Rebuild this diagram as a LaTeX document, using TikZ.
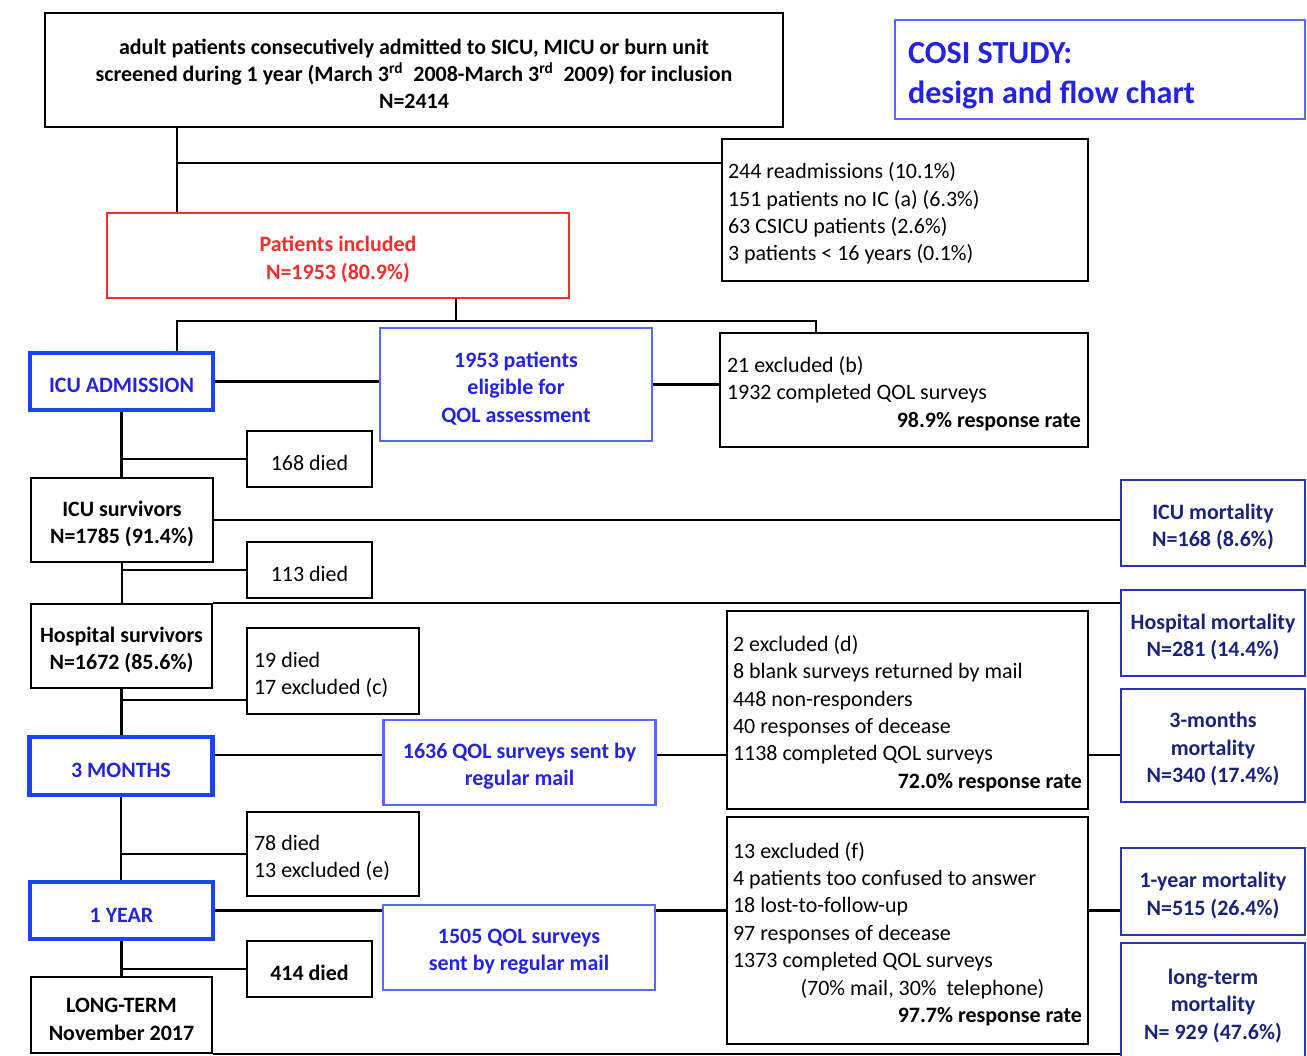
\documentclass[tikz,border=0pt]{standalone}
\usepackage{fontspec}
\setmainfont{Carlito}
\definecolor{stageblue}{RGB}{28,68,238}
\definecolor{textblue}{RGB}{35,35,225}
\definecolor{lineblue}{RGB}{85,105,250}
\definecolor{mortline}{RGB}{40,55,170}
\definecolor{morttext}{RGB}{25,35,125}
\definecolor{inclred}{RGB}{245,45,45}
\begin{document}
\fontsize{12.5pt}{15.6pt}\selectfont
\begin{tikzpicture}[x=0.02cm,y=-0.02cm,
  box/.style={draw=black,line width=1.2pt,inner sep=0pt,align=flush center,
    execute at begin node={\rule{0pt}{1.05em}}},
  listbox/.style={box,align=flush left},
  stage/.style={box,draw=stageblue,line width=2.4pt,text=textblue,font=\bfseries,
    minimum width=3.66cm,text width=3.5cm},
  bluebox/.style={box,draw=lineblue,line width=1.3pt,text=textblue,font=\bfseries,
    minimum width=5.44cm,minimum height=1.7cm,text width=5.2cm},
  mortbox/.style={box,draw=mortline,line width=1.5pt,text=morttext,font=\bfseries,
    minimum width=3.68cm,text width=3.5cm},
  diedbox/.style={box,minimum width=2.5cm,minimum height=1.12cm},
  link/.style={draw=black,line width=1.4pt}]
  \useasboundingbox (0,0) rectangle (1307,1055);

  \node[box,font=\bfseries,minimum width=14.76cm,minimum height=2.28cm,text width=14.2cm] (screen) at (414,70)
    {adult patients consecutively admitted to SICU, MICU or burn unit\\
     screened during 1 year (March 3\textsuperscript{rd}~ 2008-March 3\textsuperscript{rd}~ 2009) for inclusion\\
     N=2414};
  \node[box,draw=lineblue,line width=1.3pt,text=textblue,align=flush left,
    font=\fontsize{18.3pt}{23pt}\selectfont\bfseries,
    minimum width=8.2cm,minimum height=1.98cm,text width=7.68cm] (title) at (1100,69.5)
    {COSI STUDY:\\design and flow chart};
  \node[listbox,minimum width=7.32cm,minimum height=2.84cm,text width=7.08cm] (excl0) at (905,210)
    {244 readmissions (10.1\%)\\151 patients no IC (a) (6.3\%)\\63 CSICU patients (2.6\%)\\3 patients < 16 years (0.1\%)};
  \node[box,draw=inclred,line width=1.6pt,text=inclred,font=\bfseries,
    minimum width=9.24cm,minimum height=1.7cm,text width=8.8cm] (incl) at (338,255.5)
    {Patients included\\N=1953 (80.9\%)};

  \node[stage,minimum height=1.14cm] (icuadm) at (121.5,381.5) {ICU ADMISSION};
  \node[bluebox,minimum height=2.26cm] (elig) at (516,384.5) {1953 patients\\eligible for\\QOL assessment};
  \node[listbox,minimum width=7.36cm,minimum height=2.28cm,text width=7.08cm] (exclb) at (904,390)
    {21 excluded (b)\\1932 completed QOL surveys\\
     \hspace*{0pt plus 1filll}\textbf{98.9\% response rate}};

  \node[diedbox] (died168) at (309.5,459) {168 died};
  \node[box,font=\bfseries,minimum width=3.64cm,minimum height=1.68cm,text width=3.5cm] (icusurv) at (122,520)
    {ICU survivors\\N=1785 (91.4\%)};
  \node[mortbox,minimum height=1.72cm] (icumort) at (1213,523) {ICU mortality\\N=168 (8.6\%)};

  \node[diedbox] (died113) at (309.5,570) {113 died};
  \node[box,font=\bfseries,minimum width=3.62cm,minimum height=1.68cm,text width=3.5cm] (hospsurv) at (121.5,646)
    {Hospital survivors\\N=1672 (85.6\%)};
  \node[mortbox,minimum height=1.72cm] (hospmort) at (1213,633) {Hospital mortality\\N=281 (14.4\%)};

  \node[listbox,minimum width=3.44cm,minimum height=1.72cm,text width=3.16cm] (died19) at (333,671)
    {19 died\\17 excluded (c)};
  \node[stage,minimum height=1.16cm] (months3) at (121,766) {3 MONTHS};
  \node[bluebox] (sent1636) at (519.5,762.5) {1636 QOL surveys sent by\\regular mail};
  \node[listbox,minimum width=7.22cm,minimum height=3.96cm,text width=6.98cm] (excld) at (907.5,710)
    {2 excluded (d)\\8 blank surveys returned by mail\\448 non-responders\\40 responses of decease\\
     1138 completed QOL surveys\\\hspace*{0pt plus 1filll}\textbf{72.0\% response rate}};
  \node[mortbox,minimum height=2.26cm] (mort3m) at (1213,745.5) {3-months\\mortality\\N=340 (17.4\%)};

  \node[listbox,minimum width=3.44cm,minimum height=1.68cm,text width=3.16cm] (died78) at (333,854)
    {78 died\\13 excluded (e)};
  \node[stage,minimum height=1.14cm] (year1) at (121.5,910.5) {1 YEAR};
  \node[bluebox] (sent1505) at (519,947.5) {1505 QOL surveys\\sent by regular mail};
  \node[listbox,minimum width=7.22cm,minimum height=4.54cm,text width=6.98cm] (exclf) at (907.5,930.5)
    {13 excluded (f)\\4 patients too confused to answer\\18 lost-to-follow-up\\97 responses of decease\\
     1373 completed QOL surveys\\\hspace*{1.35cm}(70\% mail, 30\%~ telephone)\\
     \hspace*{0pt plus 1filll}\textbf{97.7\% response rate}};
  \node[mortbox,minimum height=1.74cm] (mort1y) at (1213,891.5) {1-year mortality\\N=515 (26.4\%)};

  \node[diedbox,font=\bfseries] (died414) at (309.5,969) {414 died};
  \node[box,font=\bfseries,minimum width=3.62cm,minimum height=1.52cm,text width=3.5cm] (longterm) at (121.5,1015)
    {LONG-TERM\\November 2017};
  \node[mortbox,minimum height=2.36cm] (mortlt) at (1213,1002) {long-term\\mortality\\N= 929 (47.6\%)};

  \coordinate (split0) at (177,163);
  \coordinate (split1) at (456,321);
  \coordinate (split1l) at (177,321);
  \coordinate (split1r) at (816,321);
  \coordinate (branch3) at (121,700);
  \coordinate (row3) at (0,755);

  \draw[link] (screen.south -| split0) -- (incl.north -| split0);
  \draw[link] (split0) -- (split0 -| excl0.west);
  \draw[link] (incl.south -| split1) -- (split1);
  \draw[link] (icuadm.north -| split1l) |- (split1r) -- (exclb.north -| split1r);

  \draw[link] (icuadm.east) -- (icuadm.east -| elig.west);
  \draw[link] (elig.east) -- (elig.east -| exclb.west);
  \draw[link] (icuadm.south) -- (icuadm.south |- icusurv.north);
  \draw[link] (died168.west) -- (died168.west -| icuadm.south);

  \draw[link] (icusurv.east) -- (icusurv.east -| icumort.west);
  \draw[link] (icusurv.south) -- (icusurv.south |- hospsurv.north);
  \draw[link] (died113.west) -- (died113.west -| icusurv.south);
  \draw[link] (hospsurv.north east) -- (hospsurv.north east -| hospmort.west);

  \draw[link] (hospsurv.south) -- (hospsurv.south |- months3.north);
  \draw[link] (branch3) -- (branch3 -| died19.west);
  \draw[link] (months3.east |- row3) -- (sent1636.west |- row3);
  \draw[link] (sent1636.east |- row3) -- (excld.west |- row3);
  \draw[link] (excld.east |- row3) -- (mort3m.west |- row3);

  \draw[link] (months3.south) -- (months3.south |- year1.north);
  \draw[link] (died78.west) -- (died78.west -| months3.south);
  \draw[link] (year1.east) -- (year1.east -| sent1505.west);
  \draw[link] (sent1505.east |- year1.east) -- (exclf.west |- year1.east);
  \draw[link] (exclf.east |- year1.east) -- (mort1y.west |- year1.east);

  \draw[link] (year1.south) -- (year1.south |- longterm.north);
  \draw[link] (died414.west) -- (died414.west -| year1.south);
  \draw[link] (longterm.south east) -- (longterm.south east -| mortlt.west);
\end{tikzpicture}
\end{document}
